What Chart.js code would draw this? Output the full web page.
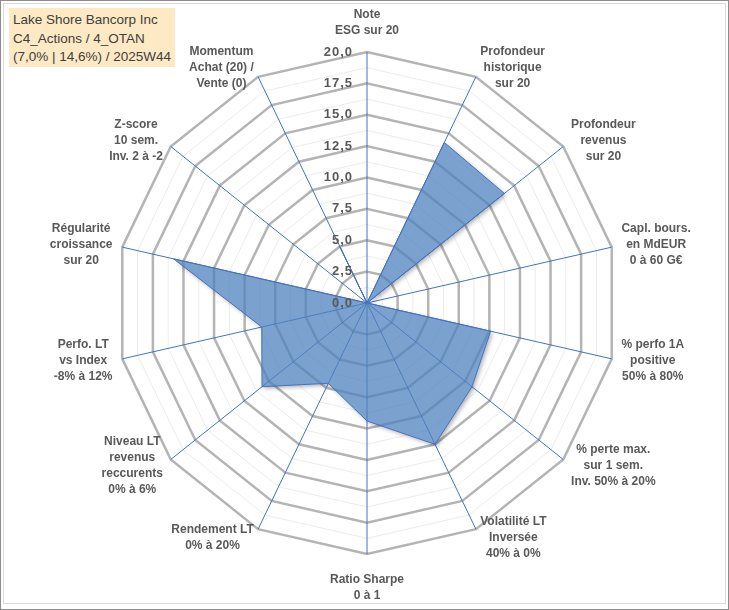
<!DOCTYPE html>
<html>
<head>
<meta charset="utf-8">
<script src="https://cdn.jsdelivr.net/npm/chart.js@4.4.1/dist/chart.umd.min.js"></script>
<style>
  html, body { margin: 0; padding: 0; background: #fff; overflow: hidden; }
  #wrap { position: relative; width: 729px; height: 610px; }
  #title {
    position: absolute; left: 9px; top: 8px; width: 162px; height: 56px;
    padding: 3px 0 0 4px; background: #FDE9C4; color: #404040;
    font: 13.5px "Liberation Sans", Arial, sans-serif; line-height: 18.5px;
    white-space: nowrap; z-index: 2;
  }
</style>
</head>
<body>
<div id="wrap">
  <div id="title">Lake Shore Bancorp Inc<br>C4_Actions / 4_OTAN<br>(7,0% | 14,6%) / 2025W44</div>
  <canvas id="myChart"></canvas>
</div>
<script>
// axes of the radar, clockwise from the top
const axisLabels = [
  ['Note', 'ESG sur 20'],
  ['Profondeur', 'historique', 'sur 20'],
  ['Profondeur', 'revenus', 'sur 20'],
  ['Capl. bours.', 'en MdEUR', '0 à 60 G€'],
  ['% perfo 1A', 'positive', '50% à 80%'],
  ['% perte max.', 'sur 1 sem.', 'Inv. 50% à 20%'],
  ['Volatilité LT', 'Inversée', '40% à 0%'],
  ['Ratio Sharpe', '0 à 1'],
  ['Rendement LT', '0% à 20%'],
  ['Niveau LT', 'revenus', 'reccurents', '0% à 6%'],
  ['Perfo. LT', 'vs Index', '-8% à 12%'],
  ['Régularité', 'croissance', 'sur 20'],
  ['Z-score', '10 sem.', 'Inv. 2 à -2'],
  ['Momentum', 'Achat (20) /', 'Vente (0)']
];
const scores = [0, 14.2, 14.0, 0, 10.1, 10.7, 12.5, 9.4, 7.1, 10.7, 8.6, 15.8, 0, 5.0];
const tickValues = [0, 2.5, 5, 7.5, 10, 12.5, 15, 17.5, 20];
const tickLabels = ['0,0', '2,5', '5,0', '7,5', '10,0', '12,5', '15,0', '17,5', '20,0'];

const labelFont = 'bold 12px "Liberation Sans", Arial, sans-serif';

// frame around the picture
const framePlugin = {
  id: 'frame',
  beforeDraw(chart) {
    const ctx = chart.ctx;
    ctx.save();
    ctx.fillStyle = '#fff';
    ctx.fillRect(0, 0, chart.width, chart.height);
    ctx.strokeStyle = '#8c8c8c';
    ctx.lineWidth = 1;
    ctx.strokeRect(0.5, 0.5, chart.width - 1, chart.height - 1);
    ctx.strokeStyle = '#d9d9d9';
    ctx.strokeRect(3.5, 3.5, chart.width - 7, chart.height - 10);
    ctx.restore();
  }
};

// shadow only outside the filled area
const shadowPlugin = {
  id: 'shadow',
  beforeDatasetsDraw(chart) {
    const ctx = chart.ctx;
    const pts = chart.getDatasetMeta(0).data;
    const poly = new Path2D();
    pts.forEach((p, i) => (i ? poly.lineTo(p.x, p.y) : poly.moveTo(p.x, p.y)));
    poly.closePath();
    const outside = new Path2D();
    outside.rect(0, 0, chart.width, chart.height);
    outside.addPath(poly);
    ctx.save();
    ctx.clip(outside, 'evenodd');
    ctx.shadowColor = 'rgba(0,0,0,0.3)';
    ctx.shadowBlur = 4;
    ctx.shadowOffsetX = 2;
    ctx.shadowOffsetY = 2;
    ctx.fillStyle = '#7a9cc8';
    ctx.fill(poly);
    ctx.restore();
  }
};

// Excel-like labels: centred lines, ticks on the left of the top axis
const labelsPlugin = {
  id: 'radarLabels',
  afterDatasetsDraw(chart) {
    const ctx = chart.ctx;
    const scale = chart.scales.r;
    ctx.save();

    ctx.font = 'bold 13px "Liberation Sans", Arial, sans-serif';
    ctx.letterSpacing = '1px';
    ctx.fillStyle = '#595959';
    ctx.textAlign = 'right';
    ctx.textBaseline = 'middle';
    tickValues.forEach((v, i) => {
      const y = scale.yCenter - scale.getDistanceFromCenterForValue(v);
      ctx.fillText(tickLabels[i], scale.xCenter - 14, y);
    });

    ctx.letterSpacing = '0px';
    ctx.font = labelFont;
    ctx.textAlign = 'center';
    const lh = 16;
    axisLabels.forEach((lines, i) => {
      const p = scale.getPointPosition(i, scale.drawingArea + 10);
      const dx = Math.cos(p.angle), dy = Math.sin(p.angle);
      const w = Math.max(...lines.map(l => ctx.measureText(l).width));
      const h = lines.length * lh;
      let cx, cy;
      if (Math.abs(dx) < 0.05) {
        cx = p.x;
        cy = dy < 0 ? p.y - h / 2 - 3 : p.y + h / 2 + 8;
      } else {
        cx = dx > 0 ? p.x + w / 2 : p.x - w / 2;
        cy = p.y;
      }
      lines.forEach((l, k) => ctx.fillText(l, cx, cy - h / 2 + lh * (k + 0.5)));
    });
    ctx.restore();
  }
};

var ctx = document.getElementById('myChart').getContext('2d');
var myChart = new Chart(ctx, {
  type: 'radar',
  data: {
    labels: axisLabels,
    datasets: [{
      data: scores,
      backgroundColor: 'rgba(79,129,189,0.75)',
      borderColor: '#4472C4',
      borderWidth: 1,
      pointRadius: 0,
      fill: true
    }]
  },
  options: {
    responsive: true,
    maintainAspectRatio: false,
    animation: false,
    layout: { padding: { left: 116, right: 111, top: 52, bottom: 56 } },
    plugins: { legend: { display: false }, tooltip: { enabled: false } },
    scales: {
      r: {
        min: 0,
        max: 20,
        ticks: { stepSize: 1.25, display: false },
        pointLabels: { display: false },
        angleLines: { color: '#4472C4', lineWidth: 1 },
        grid: {
          color: c => (c.tick.value % 2.5 === 0 ? '#b4b4b4' : '#ececec'),
          lineWidth: c => (c.tick.value % 2.5 === 0 ? 2.5 : 1)
        }
      }
    }
  },
  plugins: [framePlugin, shadowPlugin, labelsPlugin]
});
</script>
</body>
</html>
